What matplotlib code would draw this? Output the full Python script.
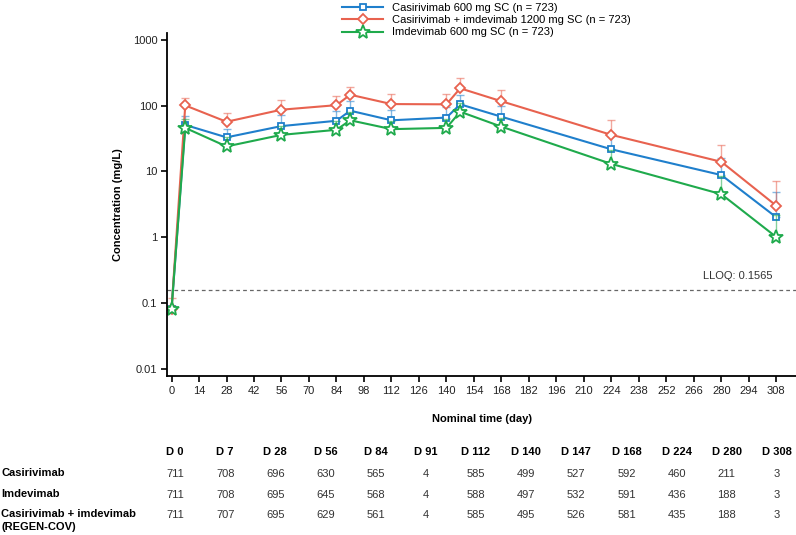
import numpy as np
import matplotlib
matplotlib.use('Agg')
from matplotlib import pyplot as plt

plt.rcParams['font.family'] = ['Liberation Sans', 'DejaVu Sans']

# nominal days of sampling
days = [0, 7, 28, 56, 84, 91, 112, 140, 147, 168, 224, 280, 308]

# mean concentrations (mg/L)
cas_mean = [0.08, 51, 33, 49, 59, 84, 60, 66, 105, 68, 21.7, 8.8, 2.0]
combo_mean = [0.08, 101, 57, 87, 102, 147, 106, 105, 184, 117, 36, 14, 3.0]
imd_mean = [0.08, 46, 24, 36, 43, 60, 44, 46, 81, 48, 13, 4.5, 1.0]

# mean + SD (upper whisker only)
cas_upper = [0.09, 70, 45, 72, 83, 117, 86, 95, 147, 99, 35, 16, 4.9]
combo_upper = [0.12, 133, 78, 122, 142, 195, 150, 151, 261, 175, 60, 25.5, 7.2]
imd_upper = [0.09, 62, 33, 50, 58, 80, 58, 62, 110, 66, 21, 8.5, 2.2]

lloq = 0.1565

labels = ['Casirivimab 600 mg SC (n = 723)',
          'Casirivimab + imdevimab 1200 mg SC (n = 723)',
          'Imdevimab 600 mg SC (n = 723)']

# number of patients table
tab_days = ['D 0', 'D 7', 'D 28', 'D 56', 'D 84', 'D 91', 'D 112',
            'D 140', 'D 147', 'D 168', 'D 224', 'D 280', 'D 308']
tab_rows = ['Casirivimab', 'Imdevimab', 'Casirivimab + imdevimab\n(REGEN-COV)']
n_cas = [711, 708, 696, 630, 565, 4, 585, 499, 527, 592, 460, 211, 3]
n_imd = [711, 708, 695, 645, 568, 4, 588, 497, 532, 591, 436, 188, 3]
n_combo = [711, 707, 695, 629, 561, 4, 585, 495, 526, 581, 435, 188, 3]

W, H = 796, 535
fs = 8
fig = plt.figure(figsize=(W / 100, H / 100), dpi=100)
ax = fig.add_axes([167 / W, 1 - 376 / H, 1 - 167 / W, (376 - 33) / H])

series = [
    (cas_mean, cas_upper, '#1f7fcc', 's', 5),
    (combo_mean, combo_upper, '#e8624f', 'D', 5),
    (imd_mean, imd_upper, '#1faa4c', '*', 10),
]

handles = []
for (m, up, col, mk, ms), lab in zip(series, labels):
    m = np.array(m)
    err = np.array(up) - m
    ax.errorbar(days, m, yerr=[np.zeros_like(m), err], fmt='none',
                ecolor=col, alpha=0.55, elinewidth=1.0, capsize=3, capthick=1.0)
    h, = ax.plot(days, m, color=col, lw=1.5, marker=mk, ms=ms,
                 mfc='white', mec=col, mew=1.3, label=lab)
    handles.append(h)

ax.axhline(lloq, color='#666666', ls=(0, (3, 2.5)), lw=0.9)
ax.text(306, lloq * 1.35, 'LLOQ: 0.1565', ha='right', va='bottom',
        fontsize=fs, color='#333333')

ax.set_yscale('log')
ax.set_ylim(10 ** -2.114, 10 ** 3.107)
ax.set_xlim(-2.3, 318)
yt = [0.01, 0.1, 1, 10, 100, 1000]
ax.set_yticks(yt)
ax.set_yticklabels(['0.01', '0.1', '1', '10', '100', '1000'])
ax.yaxis.set_minor_locator(matplotlib.ticker.NullLocator())
ax.set_xticks(np.arange(0, 309, 14))

for s in ['top', 'right']:
    ax.spines[s].set_visible(False)
for s in ['left', 'bottom']:
    ax.spines[s].set_linewidth(1.3)
ax.tick_params(axis='both', length=4, width=1.2, labelsize=fs,
               colors='black', labelcolor='#222222', pad=3)

ax.set_ylabel('Concentration (mg/L)', fontsize=fs, fontweight='bold',
              labelpad=7)
ax.set_xlabel('Nominal time (day)', fontsize=fs, fontweight='bold',
              labelpad=13)

fig.legend(handles=handles, loc='upper left',
           bbox_to_anchor=(342 / W, 1 - 3 / H), frameon=False,
           fontsize=fs, handlelength=3.7, handletextpad=0.8,
           labelspacing=0.2, borderaxespad=0, borderpad=0)

# table under the chart
col_x = np.linspace(175, 777, len(tab_days))
for x, d in zip(col_x, tab_days):
    fig.text(x / W, 1 - 452 / H, d, ha='center', va='center',
             fontsize=fs, fontweight='bold')
row_y = [474, 495, 515]
for y, name, vals in zip(row_y, tab_rows, [n_cas, n_imd, n_combo]):
    fig.text(1 / W, 1 - (y - 6) / H, name, ha='left', va='top',
             fontsize=fs, fontweight='bold', linespacing=1.4)
    for x, v in zip(col_x, vals):
        fig.text(x / W, 1 - y / H, str(v), ha='center', va='center',
                 fontsize=fs, color='#333333')

fig.savefig('out.png', dpi=100)
